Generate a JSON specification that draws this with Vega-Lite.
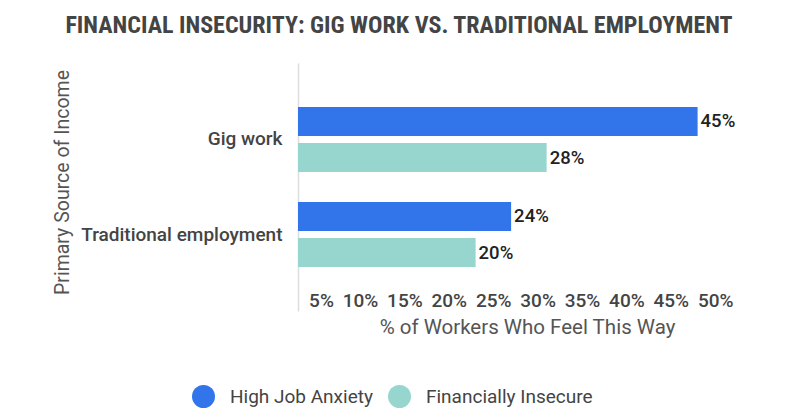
{
  "$schema": "https://vega.github.io/schema/vega-lite/v6.json",
  "width": 444,
  "height": 248,
  "autosize": "none",
  "padding": {"left": 298, "top": 63, "right": 58, "bottom": 109},
  "background": "white",
  "title": {
    "text": "FINANCIAL INSECURITY: GIG WORK VS. TRADITIONAL EMPLOYMENT",
    "font": "Roboto Condensed, Liberation Sans Narrow, Roboto",
    "fontSize": 24,
    "fontWeight": "bold",
    "color": "#444444",
    "anchor": "middle",
    "frame": "group",
    "dx": -121,
    "baseline": "alphabetic",
    "offset": 6
  },
  "data": {
    "values": [
      {"category": "Gig work", "series": "High Job Anxiety", "value": 0.45},
      {"category": "Gig work", "series": "Financially Insecure", "value": 0.28},
      {"category": "Traditional employment", "series": "High Job Anxiety", "value": 0.24},
      {"category": "Traditional employment", "series": "Financially Insecure", "value": 0.20}
    ]
  },
  "encoding": {
    "y": {
      "field": "category",
      "type": "nominal",
      "sort": ["Gig work", "Traditional employment"],
      "scale": {"paddingInner": 0, "paddingOuter": 0.305},
      "axis": {
        "title": "Primary Source of Income",
        "titleFont": "Roboto",
        "titleFontSize": 19.5,
        "titleFontWeight": "normal",
        "titleColor": "#555555",
        "titleX": -236,
        "titleY": 119,
        "titleAngle": -90,
        "titleAlign": "center",
        "titleBaseline": "middle",
        "labelFont": "Roboto",
        "labelFontSize": 19,
        "labelFontWeight": 500,
        "labelColor": "#444444",
        "labelPadding": 16,
        "labelLimit": 300,
        "ticks": false,
        "domain": true,
        "domainColor": "#dddddd",
        "domainWidth": 1.5,
        "grid": false
      }
    },
    "yOffset": {
      "field": "series",
      "type": "nominal",
      "sort": ["High Job Anxiety", "Financially Insecure"],
      "scale": {"paddingInner": 0.194, "paddingOuter": 0.416}
    },
    "x": {
      "field": "value",
      "type": "quantitative",
      "scale": {"domain": [0, 0.5], "nice": false},
      "axis": {
        "values": [0.05, 0.1, 0.15, 0.2, 0.25, 0.3, 0.35, 0.4, 0.45, 0.5],
        "format": ".0%",
        "title": "% of Workers Who Feel This Way",
        "titleFont": "Roboto",
        "titleFontSize": 20.5,
        "titleFontWeight": "normal",
        "titleColor": "#555555",
        "titleBaseline": "alphabetic",
        "titleX": 229,
        "titleY": 47,
        "titleAlign": "center",
        "labelFont": "Roboto",
        "labelFontSize": 19,
        "labelFontWeight": 500,
        "labelColor": "#444444",
        "labelAlign": "right",
        "labelOffset": -9,
        "labelBaseline": "alphabetic",
        "labelPadding": 20,
        "offset": -25,
        "ticks": false,
        "domain": false,
        "grid": false
      }
    }
  },
  "layer": [
    {
      "mark": {"type": "bar"},
      "encoding": {
        "color": {
          "field": "series",
          "type": "nominal",
          "sort": ["High Job Anxiety", "Financially Insecure"],
          "scale": {"domain": ["High Job Anxiety", "Financially Insecure"], "range": ["#3274E9", "#97D5CF"]},
          "legend": {
            "title": null,
            "orient": "none",
            "direction": "horizontal",
            "legendX": -106,
            "legendY": 322,
            "padding": 0,
            "symbolType": "circle",
            "symbolSize": 529,
            "symbolStrokeWidth": 0,
            "labelFont": "Roboto",
            "labelFontSize": 19,
            "labelColor": "#444444",
            "labelOffset": 15,
            "labelLimit": 300,
            "columnPadding": 15
          }
        }
      }
    },
    {
      "mark": {
        "type": "text",
        "align": "left",
        "baseline": "middle",
        "dx": 3,
        "font": "Roboto",
        "fontSize": 18.5,
        "fontWeight": 500,
        "color": "#222222"
      },
      "encoding": {
        "text": {"field": "value", "type": "quantitative", "format": ".0%"}
      }
    }
  ],
  "config": {"view": {"stroke": null}}
}
